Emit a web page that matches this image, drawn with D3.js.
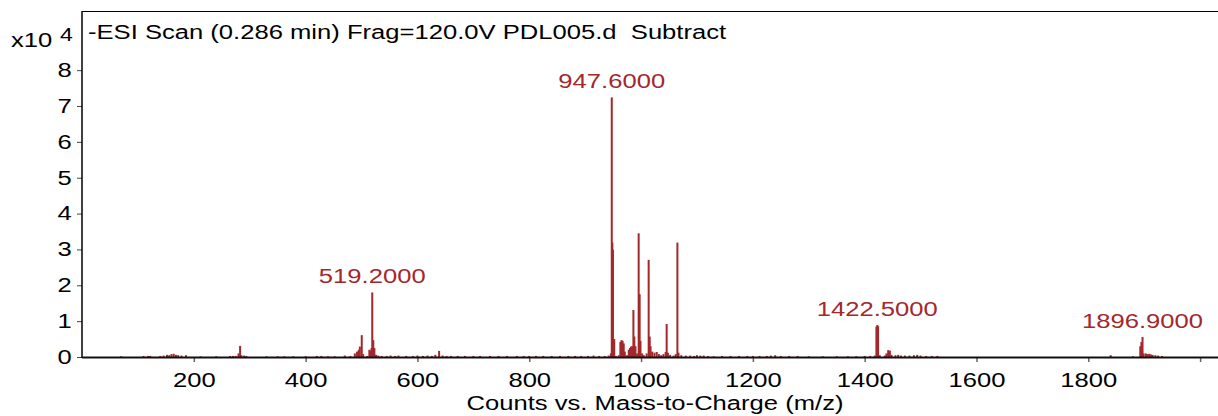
<!DOCTYPE html>
<head>
  <meta charset="utf-8">
  <script src="https://d3js.org/d3.v7.min.js"></script>
  <style>
    body { margin:0; background:#fff; }
    text { font-family: "Liberation Sans", Arial, sans-serif; white-space: pre; }
  </style>
</head>

<body>
  <script>
  // ---------- data (intensity in x10^4 counts) ----------
    var mzValues = [70,110,118,122,140,146,152,156,160,164,168,172,178,186,212,240,265,270,275,280,282.8,285,290,294,
      330,350,362,378,400,420,428,440,452,470,480,488,492,495,497,500.4,503,510,514,516,518,519.2,521,523,526,530,536,
      545,552,560,566,580,592,600,610,618,626,632,638.8,645,652,660,672,685,700,712,730,745,760,778,790,800,812,825,840,
      855,870,882,893,905,915,925,935,942,946,947.6,948.7,949.7,952,955,960,963,965,967,969,971,975,978,980,982,984,986.3,
      988,990,993,995.7,997.5,999,1002,1005,1010,1013.6,1015.5,1017,1020,1024,1028,1032,1036,1040,1044,1045.8,1048,1052,
      1058,1062,1065,1067,1072,1080,1088,1095,1100,1106,1112,1120,1130,1145,1160,1175,1190,1200,1212,1225,1232,1240,1250,
      1265,1280,1300,1325,1350,1370,1385,1400,1410,1418,1421,1422.5,1424,1427,1436,1439,1442,1445,1448,1455,1460,1465,
      1472,1480,1488,1494,1500,1510,1520,1530,1840,1880,1893,1895,1897,1899,1903,1906,1909,1912,1915,1920,1925,1932];
    var intensities = [0.02,0.03,0.03,0.03,0.03,0.04,0.06,0.05,0.08,0.09,0.06,0.05,0.04,0.05,0.02,0.02,0.03,0.03,0.03,0.1,0.31,0.05,0.04,0.03,
      0.02,0.02,0.02,0.02,0.02,0.03,0.03,0.02,0.02,0.04,0.03,0.1,0.15,0.2,0.29,0.61,0.08,0.03,0.2,0.18,0.25,1.8,0.47,0.25,0.06,0.04,0.03,
      0.03,0.04,0.03,0.04,0.03,0.03,0.04,0.03,0.04,0.03,0.06,0.17,0.04,0.03,0.03,0.03,0.03,0.03,0.03,0.03,0.03,0.03,0.03,0.03,0.03,0.03,0.03,0.03,
      0.03,0.03,0.03,0.03,0.03,0.04,0.03,0.03,0.04,0.1,7.24,3.19,2.99,0.5,0.03,0.05,0.42,0.47,0.45,0.38,0.15,0.05,0.2,0.25,0.29,0.3,1.31,
      0.57,0.3,0.1,3.45,1.75,0.45,0.1,0.05,0.1,2.71,0.57,0.3,0.15,0.12,0.14,0.08,0.05,0.08,0.14,0.92,0.12,0.06,
      0.04,0.08,3.19,0.12,0.05,0.04,0.04,0.03,0.05,0.04,0.04,0.03,0.02,0.03,0.03,0.03,0.03,0.03,0.03,0.03,0.04,0.05,0.03,
      0.03,0.03,0.02,0.02,0.02,0.02,0.02,0.03,0.03,0.04,0.85,0.89,0.86,0.05,0.04,0.1,0.19,0.18,0.06,0.05,0.06,0.04,
      0.04,0.04,0.05,0.06,0.04,0.03,0.03,0.03,0.05,0.02,0.3,0.42,0.56,0.1,0.1,0.08,0.09,0.07,0.06,0.05,0.04,0.03];

    var labelMz = [519.2, 947.6, 1422.5, 1896.9];
    var labelText = ["519.2000", "947.6000", "1422.5000", "1896.9000"];
    var labelPeakMz = [519.2, 947.6, 1422.5, 1897];

    var yTicks = [0, 1, 2, 3, 4, 5, 6, 7, 8];
    var xTicks = [200, 400, 600, 800, 1000, 1200, 1400, 1600, 1800, 2000];
    var xTickLabels = ["200", "400", "600", "800", "1000", "1200", "1400", "1600", "1800", ""];

    var peaks = mzValues.map((m, i) => ({mz: m, v: intensities[i] || 0}));

  // ---------- svg + scales ----------
    var W = 1218, H = 416;
    var plotLeft = 82, plotTop = 11, plotBottom = 357, plotRight = 1218;
    var stretch = "scale(1.28,1)";
    var red = "#a3282b";

    var svg = d3.select("body").append("svg")
      .attr("width", W)
      .attr("height", H);

    var x = d3.scaleLinear().domain([0, 2032]).range([plotLeft, plotRight]);
    var y = d3.scaleLinear().domain([0, 9.65]).range([plotBottom, plotTop]);

  // ---------- frame ----------
    svg.append("line")
      .attr("x1", plotLeft).attr("x2", plotRight).attr("y1", plotTop + 0.5).attr("y2", plotTop + 0.5)
      .attr("stroke", "#000").attr("stroke-width", 1.2);

    var yAxis = svg.append("g")
      .attr("transform", "translate(" + plotLeft + ",0)")
      .call(d3.axisLeft(y).tickValues(yTicks).tickSize(5).tickPadding(3).tickFormat(d3.format("d")));
    yAxis.select(".domain").remove();
    yAxis.append("line").attr("x1", 0).attr("x2", 0).attr("y1", plotTop).attr("y2", plotBottom + 1)
      .attr("stroke", "#000").attr("stroke-width", 1.5);
    yAxis.selectAll(".tick line").attr("stroke", "#444");
    yAxis.selectAll("text")
      .attr("font-size", 20).attr("fill", "#000")
      .attr("font-family", "Liberation Sans, Arial, sans-serif")
      .attr("transform", stretch);

  // ---------- peaks ----------
    svg.append("g").selectAll("rect")
      .data(peaks)
      .join("rect")
      .attr("x", d => x(d.mz) - 1)
      .attr("width", 2)
      .attr("y", d => y(d.v))
      .attr("height", d => plotBottom - y(d.v))
      .attr("fill", red);

  // ---------- x axis ----------
    var xAxis = svg.append("g")
      .attr("transform", "translate(0," + plotBottom + ")")
      .call(d3.axisBottom(x).tickValues(xTicks).tickSize(5).tickPadding(11)
        .tickFormat((d, i) => xTickLabels[i]));
    xAxis.select(".domain").remove();
    xAxis.append("line").attr("x1", plotLeft).attr("x2", plotRight).attr("y1", 0.5).attr("y2", 0.5)
      .attr("stroke", "#111").attr("stroke-width", 2);
    xAxis.selectAll(".tick line").attr("stroke", "#666").attr("stroke-width", 1.5);
    xAxis.selectAll("text")
      .attr("font-size", 20).attr("fill", "#000")
      .attr("font-family", "Liberation Sans, Arial, sans-serif")
      .attr("transform", stretch);

  // ---------- peak labels ----------
    labelMz.forEach(function(m, i) {
      var v = intensities[mzValues.indexOf(labelPeakMz[i])];
      svg.append("text")
        .attr("transform", "translate(" + x(m) + "," + (y(v) - 9) + ") scale(1.22,1)")
        .attr("text-anchor", "middle")
        .attr("font-size", 21)
        .attr("fill", red)
        .text(labelText[i]);
    });

  // ---------- texts ----------
    svg.append("text")
      .attr("transform", "translate(88,39) " + stretch)
      .attr("font-size", 20)
      .text("-ESI Scan (0.286 min) Frag=120.0V PDL005.d  Subtract");

    svg.append("text")
      .attr("transform", "translate(11,47) " + stretch)
      .attr("font-size", 20)
      .text("x10");
    svg.append("text")
      .attr("transform", "translate(60,41) " + stretch)
      .attr("font-size", 18)
      .text("4");

    svg.append("text")
      .attr("transform", "translate(655,410) " + stretch)
      .attr("text-anchor", "middle")
      .attr("font-size", 20)
      .text("Counts vs. Mass-to-Charge (m/z)");
  </script>
</body>
